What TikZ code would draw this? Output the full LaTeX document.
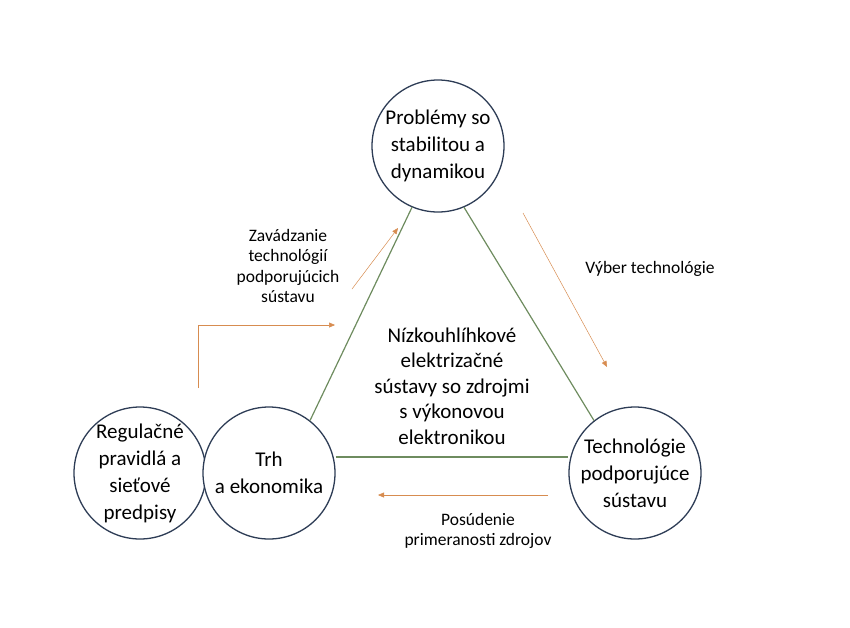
\documentclass[tikz,border=0pt]{standalone}
\usepackage{fontspec}
\setmainfont{Carlito}
\usetikzlibrary{arrows.meta}
\definecolor{circ}{RGB}{45,60,85}
\definecolor{grn}{RGB}{110,140,95}
\definecolor{org}{RGB}{215,140,80}
\tikzset{bub/.style={circle,draw=circ,line width=1.3pt,minimum size=132pt,inner sep=0pt,align=center,font=\fontsize{21}{27}\selectfont},
 tri/.style={draw=grn,line width=1.2pt},
 oarr/.style={draw=org,line width=0.5pt,-{Triangle[length=6pt,width=5pt]}},
 lbl/.style={align=center,font=\fontsize{17.5}{20.5}\selectfont}}
\begin{document}
\begin{tikzpicture}[x=1pt,y=-1pt]
\useasboundingbox (0,0) rectangle (850,627);
\node[bub] (top) at (438,146) {Problémy so\\stabilitou a\\dynamikou};
\node[bub] (reg) at (140,473) {Regulačné\\pravidlá a\\sieťové\\predpisy};
\node[bub,fill=white] (trh) at (269,473) {Trh\\a ekonomika};
\node[bub] (tech) at (635,473) {Technológie\\podporujúce\\sústavu};
\draw[tri] (top.-113) -- (trh.52);
\draw[tri] (top.-67) -- (tech.128);
\draw[tri] (trh.east |- 0,457) coordinate (h1) -- (tech.west |- 0,457);
\node[align=center,font=\fontsize{21}{25.5}\selectfont] (mid) at (452,386) {Nízkouhlíhkové\\elektrizačné\\sústavy so zdrojmi\\s výkonovou\\elektronikou};
\coordinate (a1s) at (198,388); \coordinate (a1e) at (335,325);
\draw[oarr] (a1s) |- (a1e);
\coordinate (a2s) at (352,289); \coordinate (a2e) at (398,228);
\draw[oarr] (a2s) -- (a2e);
\coordinate (a3s) at (523,213); \coordinate (a3e) at (607,367);
\draw[oarr] (a3s) -- (a3e);
\coordinate (a4s) at (548,495); \coordinate (a4e) at (378,495);
\draw[oarr] (a4s) -- (a4e);
\node[lbl] (l1) at (288,266) {Zavádzanie\\technológií\\podporujúcich\\sústavu};
\node[lbl] (l2) at (650,269) {Výber technológie};
\node[lbl] (l3) at (478,531) {Posúdenie\\primeranosti zdrojov};
\end{tikzpicture}
\end{document}
